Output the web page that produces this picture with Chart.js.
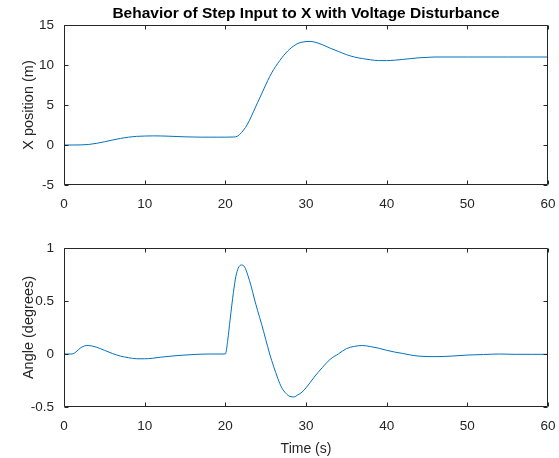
<!DOCTYPE html>
<html>
<head>
<meta charset="utf-8">
<script src="https://cdn.jsdelivr.net/npm/chart.js@4.4.0/dist/chart.umd.min.js"></script>
<style>
  html, body { margin: 0; padding: 0; background: #ffffff; }
  #wrap { position: relative; width: 559px; height: 458px; }
  canvas { position: absolute; left: 0; }
</style>
</head>
<body>
<div id="wrap">
  <canvas id="posChart" width="559" height="215" style="top:0"></canvas>
  <canvas id="angleChart" width="559" height="243" style="top:215px"></canvas>
</div>
<script>
// Simulation output: cart position after a step command of 10 m, disturbed at t = 20 s
const timePos = [0, 1, 2, 3, 4, 5, 6, 7, 8, 9, 10, 11, 12, 13, 14, 15, 16, 17, 18, 19, 20, 21, 21.5, 22, 22.5, 23, 23.5, 24, 24.5, 25, 25.5, 26, 26.5, 27, 27.5, 28, 28.5, 29, 29.5, 30, 30.5, 31, 32, 33, 34, 35, 36, 37, 38, 39, 40, 41, 42, 43, 44, 45, 46, 50, 55, 60];
const position = [0, 0, 0.01, 0.06, 0.2, 0.4, 0.62, 0.82, 0.98, 1.08, 1.12, 1.14, 1.13, 1.1, 1.06, 1.02, 1.0, 0.98, 0.98, 0.98, 0.98, 1.0, 1.1, 1.55, 2.2, 3.1, 4.2, 5.3, 6.4, 7.5, 8.55, 9.45, 10.2, 10.9, 11.5, 12.0, 12.4, 12.7, 12.85, 12.93, 12.95, 12.88, 12.55, 12.1, 11.7, 11.3, 11.0, 10.8, 10.65, 10.55, 10.55, 10.6, 10.7, 10.8, 10.9, 10.95, 11.0, 11.0, 11.0, 11.0];

// Pendulum angle over the same run
const timeAngle = [0, 1, 1.5, 2, 2.5, 3, 3.5, 4, 5, 6, 7, 8, 9, 10, 11, 12, 14, 16, 18, 20, 20.3, 20.6, 21, 21.3, 21.6, 22, 22.4, 22.8, 23.2, 23.6, 24, 24.5, 25, 25.5, 26, 26.5, 27, 27.5, 28, 28.5, 29, 29.5, 30, 31, 32, 33, 34, 35, 36, 37, 38, 39, 40, 41, 42, 43, 44, 46, 48, 50, 52, 54, 56, 58, 60];
const angle = [0, 0, 0.02, 0.055, 0.075, 0.08, 0.075, 0.065, 0.035, 0.005, -0.02, -0.035, -0.045, -0.045, -0.04, -0.03, -0.015, -0.005, 0, 0, 0.13, 0.33, 0.58, 0.73, 0.81, 0.84, 0.82, 0.74, 0.64, 0.52, 0.41, 0.28, 0.14, 0.0, -0.12, -0.23, -0.32, -0.37, -0.4, -0.405, -0.385, -0.36, -0.32, -0.22, -0.13, -0.05, 0.0, 0.05, 0.072, 0.08, 0.07, 0.055, 0.035, 0.018, 0.005, -0.01, -0.02, -0.025, -0.02, -0.01, -0.005, 0, -0.003, -0.003, -0.003];

// Axis tick values
const timeTicks = [0, 10, 20, 30, 40, 50, 60];
const posTicks = [-5, 0, 5, 10, 15];
const angleTicks = [-0.5, 0, 0.5, 1];

const INK = '#262626';
const LINE = '#0072BD';
const FONT = '"Liberation Sans", Arial, Helvetica, sans-serif';

// Box around the axes with short inward tick marks on all four sides
const framePlugin = {
  id: 'frame',
  afterDatasetsDraw(chart) {
    const { ctx, chartArea: a, scales } = chart;
    const L = Math.round(a.left) + 0.5, R = Math.round(a.right) - 0.5;
    const T = Math.round(a.top) + 0.5, B = Math.round(a.bottom) - 0.5;
    const len = 4;
    ctx.save();
    ctx.strokeStyle = INK;
    ctx.lineWidth = 1;
    ctx.beginPath();
    ctx.rect(L, T, R - L, B - T);
    scales.x.ticks.forEach(t => {
      const px = Math.round(scales.x.getPixelForValue(t.value)) + 0.5;
      ctx.moveTo(px, B); ctx.lineTo(px, B - len);
      ctx.moveTo(px, T); ctx.lineTo(px, T + len);
    });
    scales.y.ticks.forEach(t => {
      const py = Math.round(scales.y.getPixelForValue(t.value)) + 0.5;
      ctx.moveTo(L, py); ctx.lineTo(L + len, py);
      ctx.moveTo(R, py); ctx.lineTo(R - len, py);
    });
    ctx.stroke();
    ctx.restore();
  }
};

function toPoints(xs, ys) {
  return xs.map((x, i) => ({ x: x, y: ys[i] }));
}

function makeChart(id, xs, ys, yTicks, yTitle, opts) {
  return new Chart(document.getElementById(id), {
    type: 'line',
    data: {
      datasets: [{
        data: toPoints(xs, ys),
        borderColor: LINE,
        borderWidth: 1,
        pointRadius: 0,
        fill: false,
        cubicInterpolationMode: 'monotone'
      }]
    },
    options: {
      responsive: false,
      animation: false,
      events: [],
      layout: { padding: { top: opts.padTop, right: 11, left: 0, bottom: 0 } },
      plugins: {
        legend: { display: false },
        tooltip: { enabled: false },
        title: opts.title ? {
          display: true,
          text: opts.title,
          fullSize: false,
          color: '#000000',
          font: { family: FONT, size: 15.5, weight: 'bold', lineHeight: 1.2 },
          padding: { top: 4, bottom: 2.4 }
        } : { display: false }
      },
      scales: {
        x: {
          type: 'linear',
          min: 0, max: 60,
          afterBuildTicks: s => { s.ticks = timeTicks.map(v => ({ value: v })); },
          afterFit: s => {
            s.height = opts.xHeight;
            // keep the plot edges fixed; end labels may overhang into the margins
            s.paddingLeft = 0;
            s.paddingRight = 0;
          },
          grid: { display: false, drawTicks: false },
          border: { display: false },
          ticks: {
            color: INK, padding: 11, maxRotation: 0,
            font: { family: FONT, size: 13.5 },
            callback: v => String(v)
          },
          title: opts.xTitle ? {
            display: true, text: opts.xTitle, color: INK,
            font: { family: FONT, size: 14 }, padding: { top: 0, bottom: 0 }
          } : { display: false }
        },
        y: {
          type: 'linear',
          min: yTicks[0], max: yTicks[yTicks.length - 1],
          afterBuildTicks: s => { s.ticks = yTicks.map(v => ({ value: v })); },
          afterFit: s => {
            s.width = 64;
            s.paddingTop = 0;
            s.paddingBottom = 0;
          },
          grid: { display: false, drawTicks: false },
          border: { display: false },
          ticks: {
            color: INK, padding: 10,
            font: { family: FONT, size: 13.5 },
            callback: v => String(v)
          },
          title: {
            display: true, text: yTitle, color: INK,
            font: { family: FONT, size: 14.5 }, padding: { top: 20, bottom: 0 }
          }
        }
      }
    },
    plugins: [framePlugin]
  });
}

makeChart('posChart', timePos, position, posTicks, 'X position (m)', {
  title: 'Behavior of Step Input to X with Voltage Disturbance',
  padTop: 0, xHeight: 30
});
makeChart('angleChart', timeAngle, angle, angleTicks, 'Angle (degrees)', {
  xTitle: 'Time (s)',
  padTop: 33, xHeight: 51
});
</script>
</body>
</html>
